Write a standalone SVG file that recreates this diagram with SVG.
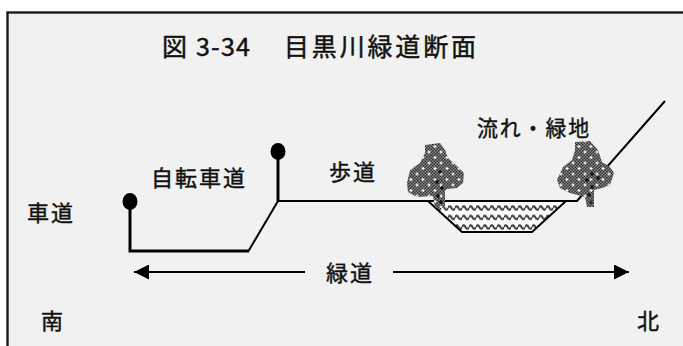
<svg xmlns="http://www.w3.org/2000/svg" width="683" height="346" viewBox="0 0 683 346">
  <style>
    .lbl { font-family: "Noto Sans CJK JP", "Noto Sans", sans-serif; font-size: 22px; letter-spacing: 2px; fill: #111; stroke: #111; stroke-width: 0.45; }
    .ttl { font-family: "Noto Sans CJK JP", "Noto Sans", sans-serif; font-size: 25px; letter-spacing: 2px; fill: #111; stroke: #111; stroke-width: 0.45; }
    .thick { fill: none; stroke: #000; stroke-width: 3; }
    .thin { fill: none; stroke: #000; stroke-width: 2; }
  </style>
  <defs>
    <!-- stippled foliage texture -->
    <pattern id="foliage" patternUnits="userSpaceOnUse" width="3" height="3">
      <rect width="3" height="3" fill="#8c8c8c"/>
      <rect x="0" y="0" width="1.5" height="1.5" fill="#2e2e2e"/>
      <rect x="1.5" y="1.5" width="1.5" height="1.5" fill="#2e2e2e"/>
    </pattern>
    <!-- white sparkles scattered over the foliage -->
    <pattern id="sparkle" patternUnits="userSpaceOnUse" width="12" height="11">
      <path d="M3 2v3M1.5 3.5h3M9 7.5v3M7.5 9h3" stroke="#fff" stroke-width="1.2"/>
    </pattern>
    <!-- wavy water surface -->
    <pattern id="water" patternUnits="userSpaceOnUse" x="0" y="204" width="7" height="9.5">
      <rect width="7" height="9.5" fill="#fafafa"/>
      <path d="M0 4q1.75 -3.5 3.5 0t3.5 0" fill="none" stroke="#3c3c3c" stroke-width="2"/>
    </pattern>
    <marker id="head" viewBox="0 0 10 10" refX="10" refY="5" markerWidth="16" markerHeight="15" markerUnits="userSpaceOnUse" orient="auto-start-reverse">
      <path d="M0 0L10 5L0 10z" fill="#000"/>
    </marker>
  </defs>

  <!-- frame -->
  <rect x="7.5" y="12.5" width="700" height="400" fill="#f1f1f1" stroke="#1a1a1a" stroke-width="2.4"/>

  <!-- title -->
  <g id="title">
    <text class="ttl" x="162" y="56">図</text>
    <text class="ttl" x="196" y="56" textLength="56">3-34</text>
    <text class="ttl" x="284" y="56" textLength="194">目黒川緑道断面</text>
  </g>

  <!-- channel with water -->
  <g id="channel">
    <path d="M428 201L462 232H532L566 201Z" fill="url(#water)" stroke="#000" stroke-width="2"/>
  </g>

  <g id="connectors">
    <!-- roadway curb and pole -->
    <path class="thick" d="M130 203V251H249"/>
    <!-- bicycle lane slope -->
    <path class="thin" d="M248.5 251L278 201"/>
    <!-- pole at sidewalk edge -->
    <path class="thick" d="M278 153V201"/>
    <!-- sidewalk -->
    <path class="thin" d="M278 201H428"/>
    <!-- north bank -->
    <path class="thin" d="M566 201H577L665 101"/>
    <!-- green way extent arrows -->
    <path class="thin" d="M305 272H134" marker-end="url(#head)"/>
    <path class="thin" d="M393 272H629" marker-end="url(#head)"/>
  </g>

  <g id="poles">
    <ellipse cx="130" cy="201.5" rx="7.5" ry="8.5" fill="#000"/>
    <ellipse cx="278" cy="151.5" rx="7.5" ry="8.5" fill="#000"/>
  </g>

  <!-- trees -->
  <g id="tree-south">
    <path d="M425 145L440 143L445 150L448 158L458 167L464 173L463 183L457 188L447 189L445 191V208H435L433 196L417 197L408 192L407 183L410 170L420 163L425 153Z" fill="url(#foliage)"/>
    <path d="M425 145L440 143L445 150L448 158L458 167L464 173L463 183L457 188L447 189L445 191V208H435L433 196L417 197L408 192L407 183L410 170L420 163L425 153Z" fill="url(#sparkle)"/>
    <path d="M440 170v4M438 172h4M437 180v4M435 182h4M442 186v4M440 188h4M438 194v4M436 196h4M441 200v4M439 202h4" stroke="#000" stroke-width="1.2"/>
  </g>
  <g id="tree-north">
    <path d="M575 142L590 141L598 150L602 162L610 167L614 173L610 185L602 188L594 190V207H587L585 197L570 193L560 188L557 180L563 167L572 160L575 150Z" fill="url(#foliage)"/>
    <path d="M575 142L590 141L598 150L602 162L610 167L614 173L610 185L602 188L594 190V207H587L585 197L570 193L560 188L557 180L563 167L572 160L575 150Z" fill="url(#sparkle)"/>
    <path d="M592 172v4M590 174h4M587 178v4M585 180h4M592 185v4M590 187h4M589 193v4M587 195h4M591 200v4M589 202h4M598 176v4M596 178h4" stroke="#000" stroke-width="1.2"/>
  </g>

  <!-- labels -->
  <g id="label-roadway"><text class="lbl" x="27" y="221">車道</text></g>
  <g id="label-bikelane"><text class="lbl" x="151" y="185.5">自転車道</text></g>
  <g id="label-sidewalk"><text class="lbl" x="329" y="180">歩道</text></g>
  <g id="label-stream"><text class="lbl" x="477" y="136" textLength="114" lengthAdjust="spacingAndGlyphs">流れ・緑地</text></g>
  <g id="label-greenway"><text class="lbl" x="326" y="281">緑道</text></g>
  <g id="label-south"><text class="lbl" x="41" y="329">南</text></g>
  <g id="label-north"><text class="lbl" x="637" y="329">北</text></g>
</svg>
